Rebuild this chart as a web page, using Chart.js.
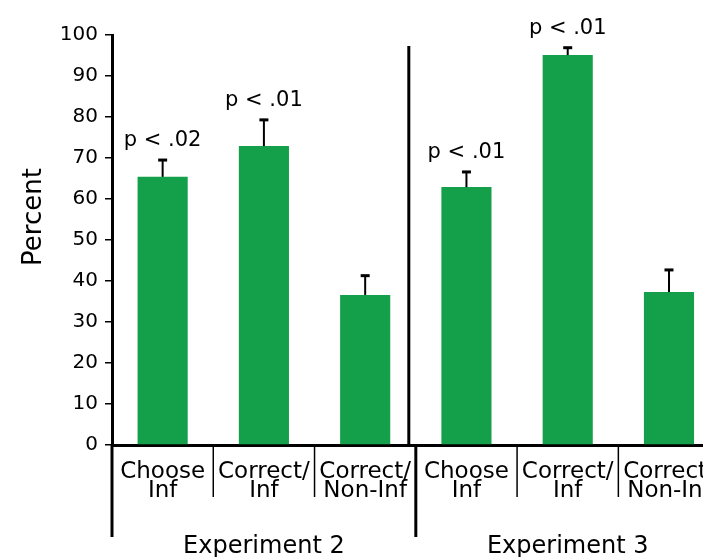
<!DOCTYPE html>
<html>
<head>
<meta charset="utf-8">
<script src="https://cdn.jsdelivr.net/npm/chart.js@4.4.1/dist/chart.umd.min.js"></script>
<style>
  html, body { margin: 0; padding: 0; background: #fff; overflow: hidden; }
  #wrap { width: 724px; height: 557px; }
</style>
</head>
<body>
<div id="wrap"><canvas id="myChart" width="724" height="557"></canvas></div>
<script>
const categories = [
  ['Choose', 'Inf'],
  ['Correct/', 'Inf'],
  ['Correct/', 'Non-Inf'],
  ['Choose', 'Inf'],
  ['Correct/', 'Inf'],
  ['Correct/', 'Non-Inf']
];
const percent = [65.4, 72.9, 36.6, 62.9, 95.1, 37.3];
const errorUp = [4.1, 6.4, 4.7, 3.7, 1.8, 5.4];
const pLabels = ['p < .02', 'p < .01', '', 'p < .01', 'p < .01', ''];
const groups = ['Experiment 2', 'Experiment 3'];
const yTitle = 'Percent';
const yTicks = [0, 10, 20, 30, 40, 50, 60, 70, 80, 90, 100];

const FONT = 'DejaVu Sans';

// error bars, p values, divider lines, axis title and group titles
const extras = {
  id: 'extras',
  afterDatasetsDraw(chart) {
    const ctx = chart.ctx;
    const x = chart.scales.x;
    const y = chart.scales.y;
    const area = chart.chartArea;
    ctx.save();
    ctx.strokeStyle = '#000';
    ctx.fillStyle = '#000';

    percent.forEach((v, i) => {
      const cx = x.getPixelForValue(i);
      const top = y.getPixelForValue(v);
      const et = y.getPixelForValue(v + errorUp[i]);
      ctx.lineWidth = 2;
      ctx.beginPath();
      ctx.moveTo(cx, top);
      ctx.lineTo(cx, et);
      ctx.stroke();
      ctx.lineWidth = 3;
      ctx.beginPath();
      ctx.moveTo(cx - 4.5, et);
      ctx.lineTo(cx + 4.5, et);
      ctx.stroke();
      if (pLabels[i]) {
        ctx.font = '21px "' + FONT + '"';
        ctx.textAlign = 'center';
        ctx.textBaseline = 'alphabetic';
        ctx.fillText(pLabels[i], cx, et - 14);
      }
    });

    // divider inside the plot
    const mid = (x.getPixelForValue(2) + x.getPixelForValue(3)) / 2;
    ctx.lineWidth = 3;
    ctx.beginPath();
    ctx.moveTo(mid - 7, area.top + 11);
    ctx.lineTo(mid - 7, area.bottom);
    ctx.stroke();

    // separators under the axis
    const step = x.getPixelForValue(1) - x.getPixelForValue(0);
    ctx.lineWidth = 1.5;
    [0, 1, 3, 4].forEach(i => {
      const bx = x.getPixelForValue(i) + step / 2;
      ctx.beginPath();
      ctx.moveTo(bx, area.bottom);
      ctx.lineTo(bx, area.bottom + 52);
      ctx.stroke();
    });
    ctx.lineWidth = 3;
    [area.left, mid].forEach(bx => {
      ctx.beginPath();
      ctx.moveTo(bx, area.bottom);
      ctx.lineTo(bx, area.bottom + 92);
      ctx.stroke();
    });

    ctx.font = '24px "' + FONT + '"';
    ctx.textAlign = 'center';
    ctx.textBaseline = 'alphabetic';
    ctx.fillText(groups[0], (area.left + mid) / 2, area.bottom + 108);
    ctx.fillText(groups[1], (mid + area.right) / 2, area.bottom + 108);

    // y axis title
    ctx.font = '26px "' + FONT + '"';
    ctx.translate(34, area.top + 182);
    ctx.rotate(-Math.PI / 2);
    ctx.textBaseline = 'middle';
    ctx.fillText(yTitle, 0, 0);
    ctx.restore();
  }
};

const config = {
  type: 'bar',
  data: {
    labels: categories,
    datasets: [{
      data: percent,
      backgroundColor: '#14a04a',
      borderWidth: 0,
      barPercentage: 0.495,
      categoryPercentage: 1
    }]
  },
  options: {
    responsive: false,
    animation: false,
    layout: { padding: { top: 35, right: 2, left: 0, bottom: 0 } },
    plugins: {
      legend: { display: false },
      tooltip: { enabled: false }
    },
    scales: {
      x: {
        grid: { display: false },
        border: { display: true, color: '#000', width: 3 },
        ticks: {
          color: '#000',
          font: { family: FONT, size: 23, lineHeight: 0.84 },
          padding: 9,
          maxRotation: 0,
          autoSkip: false
        },
        afterFit(scale) { scale.height = 112; }
      },
      y: {
        min: 0,
        max: 100,
        afterBuildTicks(scale) { scale.ticks = yTicks.map(v => ({ value: v })); },
        grid: { drawOnChartArea: false, drawTicks: true, tickLength: 7, color: '#000', lineWidth: 1.5 },
        border: { display: true, color: '#000', width: 3 },
        ticks: {
          color: '#000',
          font: { family: FONT, size: 20 },
          padding: 7
        },
        afterFit(scale) { scale.width = 112; }
      }
    }
  },
  plugins: [extras]
};

const wrapper = document.querySelector('#myChart');
const myChart = new Chart(wrapper, config);
</script>
</body>
</html>
